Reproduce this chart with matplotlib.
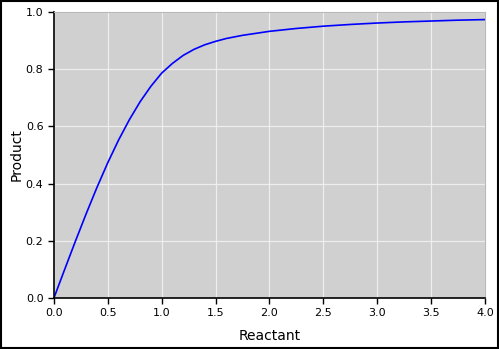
import numpy as np
from matplotlib import pyplot as plt
from matplotlib.patches import Rectangle

# Curve values
reactant = [0.0, 0.1, 0.2, 0.3, 0.4, 0.5, 0.6, 0.7, 0.8, 0.9, 1.0, 1.1, 1.2, 1.3, 1.4,
            1.5, 1.6, 1.75, 2.0, 2.25, 2.5, 2.75, 3.0, 3.25, 3.5, 3.75, 4.0]
product = [0.0, 0.100, 0.199, 0.295, 0.387, 0.473, 0.552, 0.623, 0.686, 0.740, 0.786,
           0.820, 0.848, 0.869, 0.885, 0.897, 0.907, 0.918, 0.932, 0.942, 0.950, 0.956,
           0.961, 0.965, 0.968, 0.971, 0.973]
x_ticks = [0.0, 0.5, 1.0, 1.5, 2.0, 2.5, 3.0, 3.5, 4.0]
y_ticks = [0.0, 0.2, 0.4, 0.6, 0.8, 1.0]

fig = plt.figure(figsize=(4.99, 3.49), dpi=100)
ax = fig.add_axes([0.108, 0.146, 0.864, 0.820])
ax.set_facecolor('#d0d0d0')

ax.plot(reactant, product, color='blue', linewidth=1.2)

ax.set_xlim(0, 4)
ax.set_ylim(0, 1)
ax.set_xticks(x_ticks)
ax.set_yticks(y_ticks)
ax.grid(True, color='#eeeeee', linewidth=0.9)
ax.set_axisbelow(True)
ax.tick_params(labelsize=8, length=4, width=1)

for side in ['top', 'right']:
    ax.spines[side].set_color('#b8b8b8')
for side in ['left', 'bottom']:
    ax.spines[side].set_color('black')
    ax.spines[side].set_linewidth(1.2)

ax.set_xlabel('Reactant', fontsize=10)
ax.set_ylabel('Product', fontsize=10)
ax.xaxis.set_label_coords(0.5, -0.108)
ax.yaxis.set_label_coords(-0.071, 0.5)

# black frame around the whole figure
fig.patches.append(Rectangle((0.002, 0.003), 0.996, 0.994, transform=fig.transFigure,
                             fill=False, edgecolor='black', linewidth=1.5))

fig.savefig('out.png', dpi=100)
